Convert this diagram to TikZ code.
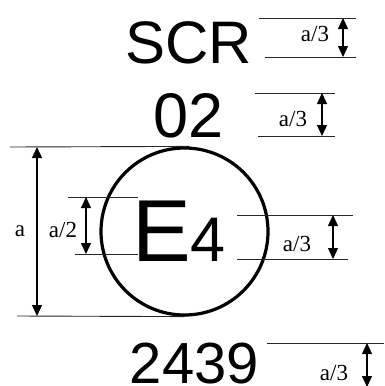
\documentclass[tikz,border=0pt]{standalone}
\usepackage{fontspec}
\setmainfont{Liberation Serif}
\setsansfont{Liberation Sans}
\usetikzlibrary{arrows.meta, positioning, calc}

\begin{document}
\begin{tikzpicture}[
x=1pt, y=-1pt,
>={Triangle[length=11pt,width=10pt]},
big/.style={font=\sffamily\fontsize{60}{60}\selectfont, inner sep=0pt, anchor=base},
lbl/.style={font=\fontsize{23}{23}\selectfont, inner sep=0pt, anchor=base},
dimline/.style={line width=0.9pt, black!85},
dimarrow/.style={<->, line width=1.2pt}
]
\useasboundingbox (0,0) rectangle (384,386);

% --- Texte ---
\node[big] (scr) at (188.5,63) {SCR};
\node[big, font=\sffamily\fontsize{63}{63}\selectfont] (num) at (188.5,137) {02};
\node[big, anchor=base west] (e4) at (132,261)
  {\fontsize{88}{88}\selectfont E\fontsize{63}{63}\selectfont 4};
\node[big, font=\sffamily\fontsize{58}{58}\selectfont] (appr) at (194.5,383) {2439};

% --- Cercle ---
\node[draw, circle, line width=3.2pt, minimum size=167pt, inner sep=0pt] (ring) at (184.5,231.5) {};

% --- Cotes SCR ---
\coordinate (scrT) at (343,18);
\coordinate (scrB) at (343,57);
\draw[dimline] (259,18) -- (356,18);
\draw[dimline] (265,57) -- (356,57);
\draw[dimarrow] (scrT) -- (scrB);
\node[lbl] (lscr) at (315,41) {a/3};

% --- Cotes 02 ---
\coordinate (numT) at (322,93);
\coordinate (numB) at (322,136);
\draw[dimline] (255,93) -- (335,93);
\draw[dimline] (258,136) -- (335,136);
\draw[dimarrow] (numT) -- (numB);
\node[lbl] (lnum) at (293,126) {a/3};

% --- Cote a (cercle) ---
\coordinate (ringT) at (37,147);
\coordinate (ringB) at (37,316);
\draw[dimline] (10,147) -- ($(ring.north)+(5,0)$);
\draw[dimline] (17,316) -- (ring.south);
\draw[dimarrow] (ringT) -- (ringB);
\node[lbl] (la) at (20,236) {a};

% --- Cote a/2 (E) ---
\coordinate (eT) at (86,197);
\coordinate (eB) at (86,254);
\draw[dimline] (68,197) -- (138,197);
\draw[dimline] (75,254) -- (138,254);
\draw[dimarrow] (eT) -- (eB);
\node[lbl] (le) at (63,237) {a/2};

% --- Cote a/3 (4) ---
\coordinate (fourT) at (333,215);
\coordinate (fourB) at (333,259);
\draw[dimline] (237,215) -- (353,215);
\draw[dimline] (237,259) -- (348,259);
\draw[dimarrow] (fourT) -- (fourB);
\node[lbl] (lfour) at (297,251) {a/3};

% --- Cote 2439 ---
\coordinate (apprT) at (367,343);
\coordinate (apprB) at (367,387);
\draw[dimline] (267,343) -- (384,343);
\draw[dimarrow] (apprT) -- (apprB);
\node[lbl] (lappr) at (334,380) {a/3};

\end{tikzpicture}
\end{document}
